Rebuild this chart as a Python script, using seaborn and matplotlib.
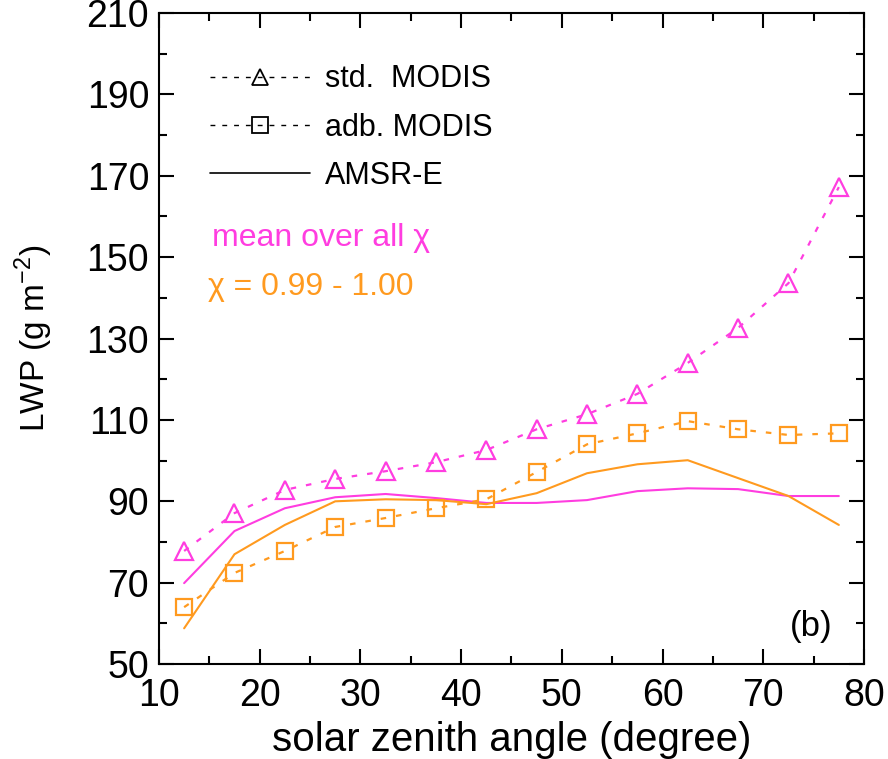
import matplotlib
matplotlib.use("Agg")
import matplotlib.pyplot as plt
from matplotlib.lines import Line2D
from matplotlib.ticker import MultipleLocator
import pandas as pd
import seaborn as sns

# ---- data ----
angle = [12.5, 17.5, 22.5, 27.5, 32.5, 37.5, 42.5, 47.5, 52.5, 57.5, 62.5, 67.5, 72.5, 77.5]
std_modis_all = [77.8, 87.1, 92.8, 95.5, 97.4, 99.6, 102.6, 107.7, 111.4, 116.4, 124.0, 132.6, 143.6, 167.2]
adb_modis_chi = [64.0, 72.4, 77.8, 83.7, 85.9, 88.3, 90.5, 97.2, 104.0, 106.7, 109.7, 107.7, 106.3, 106.7]
amsr_all = [69.9, 82.7, 88.3, 91.0, 91.8, 90.8, 89.6, 89.6, 90.3, 92.5, 93.2, 93.0, 91.3, 91.3]
amsr_chi = [58.8, 77.0, 84.2, 90.0, 90.5, 90.3, 89.3, 92.0, 96.9, 99.1, 100.1, 95.7, 91.3, 84.2]

legend_labels = ["std.  MODIS", "adb. MODIS", "AMSR-E"]
note_all = "mean over all χ"
note_chi = "χ = 0.99 - 1.00"
panel_label = "(b)"
x_ticks = [10, 20, 30, 40, 50, 60, 70, 80]
y_ticks = [50, 70, 90, 110, 130, 150, 170, 190, 210]

MAGENTA = "#ff3de0"
ORANGE = "#ff9a1f"

sns.set_style("ticks")
plt.rcParams["font.family"] = ["Liberation Sans", "DejaVu Sans"]
plt.rcParams["mathtext.fontset"] = "custom"
plt.rcParams["mathtext.rm"] = "Liberation Sans"
plt.rcParams["text.color"] = "black"
plt.rcParams["axes.labelcolor"] = "black"
plt.rcParams["xtick.color"] = "black"
plt.rcParams["ytick.color"] = "black"

df = pd.DataFrame({
    "angle": angle,
    "std_all": std_modis_all,
    "adb_chi": adb_modis_chi,
    "amsr_all": amsr_all,
    "amsr_chi": amsr_chi,
})

fig = plt.figure(figsize=(8.88, 7.59), dpi=100)
ax = fig.add_axes([0.179, 0.125, 0.794, 0.858])

dotted = (0, (2.5, 4.5))
sns.lineplot(data=df, x="angle", y="amsr_all", ax=ax, color=MAGENTA, lw=1.5, linestyle="-")
sns.lineplot(data=df, x="angle", y="amsr_chi", ax=ax, color=ORANGE, lw=1.5, linestyle="-")
sns.lineplot(data=df, x="angle", y="std_all", ax=ax, color=MAGENTA, lw=1.6, linestyle=dotted,
             marker="^", markersize=13, markerfacecolor="none", markeredgecolor=MAGENTA,
             markeredgewidth=1.6)
sns.lineplot(data=df, x="angle", y="adb_chi", ax=ax, color=ORANGE, lw=1.6, linestyle=dotted,
             marker="s", markersize=12, markerfacecolor="none", markeredgecolor=ORANGE,
             markeredgewidth=1.6)

ax.set_xlim(10, 80)
ax.set_ylim(50, 210)
ax.set_xticks(x_ticks)
ax.set_yticks(y_ticks)
ax.xaxis.set_minor_locator(MultipleLocator(5))
ax.yaxis.set_minor_locator(MultipleLocator(10))
ax.tick_params(which="both", direction="in", top=True, right=True, width=1.5, colors="black",
               labelcolor="black", labelsize=27)
ax.tick_params(which="major", length=11)
ax.tick_params(which="minor", length=5.5)
ax.tick_params(axis="x", which="major", pad=10)
ax.tick_params(axis="y", which="major", pad=7)
for s in ax.spines.values():
    s.set_linewidth(1.5)
    s.set_color("black")

ax.set_xlabel("solar zenith angle (degree)", fontsize=29, labelpad=5, color="black")
ax.set_ylabel("LWP (g m$^{-2}$)", fontsize=24, color="black")
ax.yaxis.set_label_coords(-0.148, 0.5)

legend_dash = (0, (3.5, 5))
handles = [
    Line2D([], [], color="black", lw=1.0, linestyle=legend_dash, marker="^", markersize=12,
           markerfacecolor="none", markeredgecolor="black", markeredgewidth=1.3),
    Line2D([], [], color="black", lw=1.0, linestyle=legend_dash, marker="s", markersize=11,
           markerfacecolor="none", markeredgecolor="black", markeredgewidth=1.3),
    Line2D([], [], color="black", lw=1.2, linestyle="-"),
]
leg = ax.legend(handles, legend_labels, loc="upper left", bbox_to_anchor=(0.072, 0.921),
                frameon=False, fontsize=22, handlelength=3.27, handletextpad=0.5,
                labelspacing=0.6, borderpad=0, borderaxespad=0, numpoints=1,
                labelcolor="black")

ax.text(0.075, 0.654, note_all, transform=ax.transAxes, color=MAGENTA, fontsize=23,
        va="center", ha="left")
ax.text(0.070, 0.579, note_chi, transform=ax.transAxes, color=ORANGE, fontsize=23,
        va="center", ha="left")
ax.text(0.925, 0.058, panel_label, transform=ax.transAxes, color="black", fontsize=25,
        va="center", ha="center")

fig.savefig("out.png", dpi=100)
